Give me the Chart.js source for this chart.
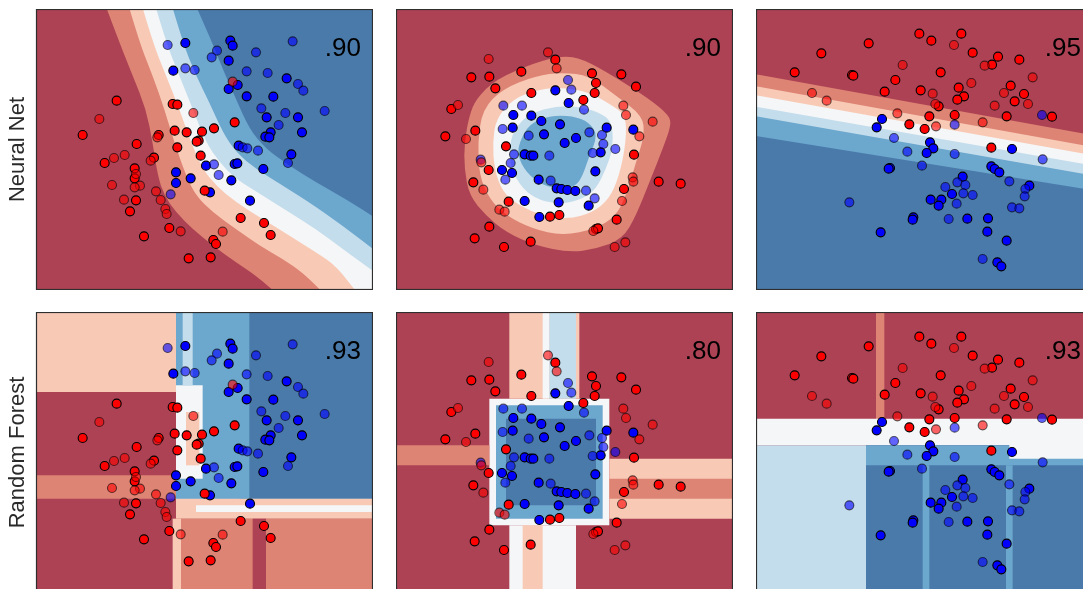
<!DOCTYPE html>
<html>
<head>
<meta charset="utf-8">
<script src="https://cdn.jsdelivr.net/npm/chart.js@4"></script>
<style>
  body { margin: 0; background: #fff; width: 1083px; height: 589px; overflow: hidden; position: relative; }
  canvas { position: absolute; }
</style>
</head>
<body>
<script>
// all values: x 0..101, y 0..84 counted from the top of each panel

// ---- moons
const moonsRedTrain = [[24.2,27.5],[41,28.5],[42.4,28.7],[59.6,34],[14,37.8],[30.2,40.5],[41.6,36.5],[45.2,37],[49.8,36.8],[53.4,35.8],[48.8,39.5],[48.2,39.8],[42.4,41.5],[36.8,37.8],[20.6,46.2],[35.4,44.6],[29.6,47.8],[49.4,44],[29.6,50.8],[30,57.4],[28.2,60.7],[50.6,54.5],[61.4,62.7],[68.4,64.2],[70.4,67.8],[40,65.7],[32.4,68.2],[53.2,69.3],[54,70.5],[45.8,74.8],[52.4,74.5]];
const moonsRedTest = [[19,33],[47.2,31.2],[59,21.8],[23.4,44.7],[26.6,43.8],[34.4,45.5],[22.8,52.8],[31.2,53],[29.6,53.5],[36,54.7],[26.4,57.2],[37.4,57.3],[38.8,60],[39.2,61.5],[43.4,66.7],[56,66.8],[36.4,38.5],[30,49.5]];
const moonsBlueTrain = [[44.8,10.2],[58.3,9.5],[59,11],[57.8,15.5],[41.2,18.5],[75.2,20.8],[57.8,24],[60.5,22.8],[63.2,26.2],[71.2,26.3],[69.2,32.5],[78.6,32.5],[70.4,37],[68.8,38.3],[70,38.5],[79.8,37],[76.6,43.6],[59.6,46.5],[60.4,46.3],[68.2,48],[42,49],[42,52.2],[46.4,50.8],[51,47],[58.6,51.4],[52.2,55],[64.2,57.5],[60.8,41]];
const moonsBlueTest = [[39.5,10.8],[77,9.7],[54.3,12.5],[52.7,14.5],[66,13],[44.8,17.8],[47.6,18.3],[63.2,18.7],[69.5,19.2],[78.6,22.5],[80.2,24.5],[67.6,29.8],[74.8,31.2],[86.6,30.6],[72.8,34.8],[62,41.5],[63.4,41.8],[66.6,42.5],[75.6,46.2],[53.4,46.6],[54.8,49.8],[40.4,55.6]];

// ---- circles
const circRedTrain = [[47.8,15.2],[37.6,18.8],[22.6,20.5],[28,20.3],[29.8,23.8],[58.8,19.3],[67.6,19.6],[72,23.3],[60,22.2],[59.6,25.2],[40.6,25.2],[56.2,27.3],[16.6,30],[23.8,36.5],[14.8,38.2],[33,41.2],[71.4,43.7],[27.8,48.3],[23.2,52],[33.8,57.8],[68.4,54],[78.8,51.8],[85.4,52.4],[46.2,62.3],[49,61.8],[66.2,63.2],[28,65.3],[23.6,68.8],[32.4,71.4],[40.4,69.8],[60,66],[60.6,65.8]];
const circRedTest = [[45.6,13],[27.8,15],[48.2,17.8],[18.6,28.8],[21,39],[68.2,29],[69,31.8],[77,33.8],[73,38.2],[26.2,54.2],[31,60.2],[32.6,60.8],[67.8,57.6],[71,50.5],[71.2,51.8],[25.6,46],[65.6,71.4],[68.8,70],[59.2,66.6]];
const circBlueTrain = [[47.8,24.4],[51.8,28.2],[35.2,31.8],[40.6,32],[43.6,33.6],[49.2,34.6],[35,35.6],[44.4,37.6],[50.6,40.2],[54,38.7],[63.2,35.6],[71.2,36.2],[38.6,43.6],[40.4,44],[41.2,44],[61.4,43],[59.8,48.7],[31.8,48.3],[34.8,49.2],[42.8,51.2],[48.2,53.8],[49.6,54],[51.4,54.3],[53.8,54.6],[38.6,57.6],[48.8,58],[57.8,59],[43,62.4]];
const circBlueTest = [[51.6,21.3],[52.6,24.2],[32.2,29],[37.8,29],[56.4,30.2],[32,36],[39.8,38],[58,37],[61.8,37.8],[62.2,40.5],[65.8,42],[59,43.2],[35.4,43.6],[34.4,46.2],[32.8,51.2],[46.4,51.5],[57,54.5],[59.6,56.8],[46,44],[25.4,45.2]];

// ---- linearly separable
const linRedTrain = [[49,7.4],[61.6,7.4],[52.6,9.5],[33.8,10.3],[19.6,13.3],[65,13.1],[72.6,14.3],[79,15.2],[70.8,16.7],[11.6,19],[28.8,19.8],[29.2,20],[55.4,19],[41.8,21.3],[38.6,24.8],[49.4,24.4],[60.8,23.6],[62.4,26.2],[60.4,27.2],[76.4,23],[80.4,25.5],[77.6,27.7],[54.8,29.2],[59.6,31.8],[52,32.2],[75.2,32.2],[88.8,32.3],[46,34.6],[50.6,36],[70.6,41.6]];
const linRedTest = [[59.4,10.8],[44,16.8],[68.6,17],[83,20.5],[64.6,22.2],[16.8,25.2],[21.2,27.5],[53,25.4],[74.4,25.2],[71.6,29],[81.6,28.5],[53.8,28.5],[42.4,31.3],[54,35.2],[68,34]];
const linBlueTrain = [[37.8,33],[36.2,35.5],[52.2,40],[53.2,41.8],[51.2,43.2],[76.8,42],[40.2,47.7],[39.8,47.9],[70.6,47.2],[71.6,48],[73,49],[62,50.3],[82,53],[58.8,55.5],[52.4,57.2],[55.6,57.2],[54.8,59],[47.2,62.5],[47,63.2],[63.4,62.9],[69.6,62.8],[69.4,66.8],[37.4,67],[75.2,69.5],[72.4,76],[73.6,77.2]];
const linBlueTest = [[41.4,38.7],[59.6,34.7],[85.8,31.8],[45.4,42.8],[59.6,43.5],[86,45.1],[49.8,47],[60.4,52],[62.8,52.8],[56.8,53.4],[76,51.7],[65,55.8],[62.2,55.3],[80.8,54],[80.6,56.2],[60.2,58.4],[28,58],[76.8,59.5],[79,59.8],[57.8,63],[68,75]];

// ---- neural net contour lines: [level, line]; moons lines run from the top edge to the bottom or right edge
const moonsNetLines = [
  [1, [[20.5,-2],[25,10],[29,20],[33,30],[35,40],[36.5,50],[38.5,56],[42,61],[47,66],[53,71],[60,76],[66,80],[73,86]]],
  [2, [[27.5,-2],[31,10],[35,20],[38.5,30],[41.5,40],[45,50],[48,56],[53,61],[60,66],[67,71],[74,75],[80,79],[87,86]]],
  [3, [[31.5,-2],[35,10],[39,20],[43,30],[46.5,40],[50,48],[54,53],[60,58],[68,63],[76,68],[84,73],[90,77],[97,86]]],
  [4, [[35.5,-2],[39,10],[43,20],[47,30],[51,40],[55,46],[60,51],[68,56],[76,61],[84,66],[92,72],[103,80]]],
  [5, [[40.5,-2],[44,10],[48,20],[52,28],[56,37],[60,43],[66,48],[74,53],[82,58],[92,65],[103,73.5]]],
  [6, [[47.5,-2],[52,8],[56,18],[60,27],[64,36],[69,42],[76,47],[84,52],[93,57],[103,63.5]]]
];
// circles: closed rings
const circNetRings = [
  [1, [[24,27],[30,21],[42,16],[50,14],[56,15],[65,20],[76,27],[82,32],[82.5,35],[80,42],[76,52],[72,62],[68,69],[60,72],[52,73],[42,71],[33,67],[27,62],[22,56],[20.5,48],[20.5,40],[22,32]]],
  [2, [[26,30],[32,24],[42,20],[50,19],[58,20],[66,26],[74,32],[74.5,38],[72,46],[69,56],[66,62],[60,66],[50,68],[41,66],[33,62],[28,57],[25,50],[24.5,40]]],
  [3, [[30,33],[35,27],[43,24],[50,23.5],[58,25],[65,29],[69,32],[69,40],[67,50],[64,57],[59,61],[52,63],[44,62],[37,59],[32,55],[29.5,48],[29,40]]],
  [4, [[35,37],[39,32],[46,29.5],[54,29],[61,31],[65,34],[65,42],[63,48],[60,54],[56,57],[50,58.5],[43,57.5],[38,54],[34.5,48],[34,42]]],
  [5, [[37,40],[40,34.5],[46,32],[53,32],[58,34],[60.5,38],[58,44],[56,50],[54,53],[50,54],[44,53],[39,49],[36.5,44]]]
];
// linear: straight lines, y at the left edge and at the right edge
const linNetLines = [
  [1, [[-2,19.2],[105,38.6]]],
  [2, [[-2,22.8],[105,42.1]]],
  [3, [[-2,25.5],[105,44.6]]],
  [4, [[-2,29.0],[105,47.6]]],
  [5, [[-2,31.8],[105,50.6]]],
  [6, [[-2,37.8],[105,55.0]]]
];

// ---- random forest cells: [x0, y0, x1, y1, level]
const moonsForestCells = [
  [0,0,42,24,2],[42,0,102,58,5],[61,0,102,56,6],[42,22,50,50,3],[45,30,49,46,2],
  [0,49,42,56,1],[60,0,64,56,5],[44,0,47,22,4],
  [42,56,102,62,2],[48,58,102,60,3],[42,62,102,86,1],[41,62,43.5,86,2],[65,62,69,86,0]
];
const circForestCells = [
  [28,26,64,64,3],[34,0,55,26,2],[44,0,46,26,3],[46,0,54,26,4],[30,28,62,62,5],[33,32,60,58,6],
  [64,44,102,62,2],[64,50,102,56,1],[0,40,28,46,1],[34,64,54,86,3],[38,64,44,86,2]
];
const linForestCells = [
  [36,0,38.5,34,1],[0,32,102,40,3],[0,40,33,86,4],[33,40,102,86,6],[33,40,102,46,5],
  [50,46,52,86,5],[75,46,77,86,5],[76,38,102,44,3]
];

const scores = ['.90', '.90', '.95', '.93', '.80', '.93'];
const rowLabels = ['Neural Net', 'Random Forest'];

const bandColors = ['rgb(173,66,84)', 'rgb(222,132,116)', 'rgb(248,202,182)', 'rgb(245,246,247)',
                    'rgb(196,221,236)', 'rgb(108,167,206)', 'rgb(74,122,170)'];

// each shape: {lvl, pts, smooth: 'open' | 'closed' | false}
const cellsToShapes = cells => cells.map(([x0, y0, x1, y1, lvl]) =>
    ({lvl, pts: [[x0,y0],[x1,y0],[x1,y1],[x0,y1]], smooth: false}));
// open lines are closed round the upper right (blue side) of the panel
const moonsShapes = moonsNetLines.map(([lvl, line]) => {
    const end = line[line.length - 1];
    const corners = end[1] > 84.3 ? [[200, 200], [200, -100]] : [[200, -100]];
    return {lvl, pts: line, tail: corners, smooth: 'open'};
});
const circShapes = circNetRings.map(([lvl, ring]) => ({lvl, pts: ring, smooth: 'closed'}));
// linear bands cover everything below their line
const linShapes = linNetLines.map(([lvl, line]) => ({lvl, pts: line, tail: [[200, 200], [-100, 200]], smooth: false}));

function regionsPlugin(shapes) {
    return {
        id: 'regions',
        beforeDatasetsDraw(chart) {
            const {ctx, chartArea: a, scales: {x, y}} = chart;
            const toPx = ([u, v]) => [x.getPixelForValue(u), y.getPixelForValue(v)];
            ctx.save();
            ctx.beginPath();
            ctx.rect(a.left, a.top, a.width, a.height);
            ctx.clip();
            ctx.fillStyle = bandColors[0];
            ctx.fillRect(a.left, a.top, a.width, a.height);
            shapes.forEach(s => {
                const p = s.pts.map(toPx);
                const n = p.length;
                const mid = (i, j) => [(p[i][0] + p[j][0]) / 2, (p[i][1] + p[j][1]) / 2];
                ctx.fillStyle = bandColors[s.lvl];
                ctx.beginPath();
                if (s.smooth === 'closed') {
                    ctx.moveTo(...mid(n - 1, 0));
                    for (let i = 0; i < n; i++) ctx.quadraticCurveTo(p[i][0], p[i][1], ...mid(i, (i + 1) % n));
                } else if (s.smooth === 'open') {
                    ctx.moveTo(...p[0]);
                    for (let i = 1; i < n - 1; i++) ctx.quadraticCurveTo(p[i][0], p[i][1], ...mid(i, i + 1));
                    ctx.lineTo(...p[n - 1]);
                } else {
                    p.forEach((q, i) => { if (i) ctx.lineTo(...q); else ctx.moveTo(...q); });
                }
                (s.tail || []).map(toPx).forEach(q => ctx.lineTo(...q));
                ctx.closePath();
                ctx.fill();
            });
            ctx.restore();
        }
    };
}

function framePlugin(score) {
    return {
        id: 'frame',
        afterDatasetsDraw(chart) {
            const {ctx, chartArea: a} = chart;
            ctx.save();
            ctx.fillStyle = '#000';
            ctx.font = '26px "Liberation Sans", Arial, sans-serif';
            ctx.textAlign = 'right';
            ctx.textBaseline = 'alphabetic';
            ctx.fillText(score, a.right - 12, a.top + 47);
            ctx.strokeStyle = '#2e2e2e';
            ctx.lineWidth = 1.2;
            ctx.strokeRect(a.left + 0.5, a.top + 0.5, a.width - 1, a.height - 1);
            ctx.restore();
        }
    };
}

function pointSet(data, color, alpha) {
    return {
        data: data.map(([x, y]) => ({x, y})),
        backgroundColor: `rgba(${color},${alpha})`,
        borderColor: `rgba(0,0,0,${alpha})`,
        borderWidth: 1.1,
        pointRadius: 4.5,
        pointHoverRadius: 4.5
    };
}

const sets = [
    [moonsRedTrain, moonsRedTest, moonsBlueTrain, moonsBlueTest],
    [circRedTrain, circRedTest, circBlueTrain, circBlueTest],
    [linRedTrain, linRedTest, linBlueTrain, linBlueTest]
];
const netShapes = [moonsShapes, circShapes, linShapes];
const forestShapes = [moonsForestCells, circForestCells, linForestCells].map(cellsToShapes);

const colLeft = [0, 396, 756];
const rowTop = [9, 312];

for (let row = 0; row < 2; row++) {
    for (let col = 0; col < 3; col++) {
        const cv = document.createElement('canvas');
        const w = col === 0 ? 373 : 337;
        cv.width = w; cv.height = 281;
        cv.style.left = colLeft[col] + 'px';
        cv.style.top = rowTop[row] + 'px';
        document.body.appendChild(cv);

        const yAxis = { type: 'linear', min: 0, max: 84.3, reverse: true, display: false };
        if (col === 0) {
            Object.assign(yAxis, {
                display: true,
                ticks: { display: false },
                grid: { display: false },
                border: { display: false },
                title: {
                    display: true,
                    text: rowLabels[row],
                    color: '#2a2a2a',
                    font: { family: '"Liberation Sans", Arial, sans-serif', size: 22 },
                    padding: { top: 5, bottom: 0 }
                },
                afterFit: s => { s.width = 36; }
            });
        }

        const [redTrain, redTest, blueTrain, blueTest] = sets[col];
        new Chart(cv.getContext('2d'), {
            type: 'scatter',
            data: {
                datasets: [
                    pointSet(redTest, '255,0,0', 0.6),
                    pointSet(blueTest, '0,0,255', 0.6),
                    pointSet(redTrain, '255,0,0', 1),
                    pointSet(blueTrain, '0,0,255', 1)
                ]
            },
            options: {
                responsive: false,
                animation: false,
                layout: { padding: 0, autoPadding: false },
                plugins: { legend: { display: false }, tooltip: { enabled: false } },
                scales: {
                    x: { type: 'linear', min: 0, max: 101.1, display: false },
                    y: yAxis
                }
            },
            plugins: [regionsPlugin(row === 0 ? netShapes[col] : forestShapes[col]), framePlugin(scores[row * 3 + col])]
        });
    }
}
</script>
</body>
</html>
